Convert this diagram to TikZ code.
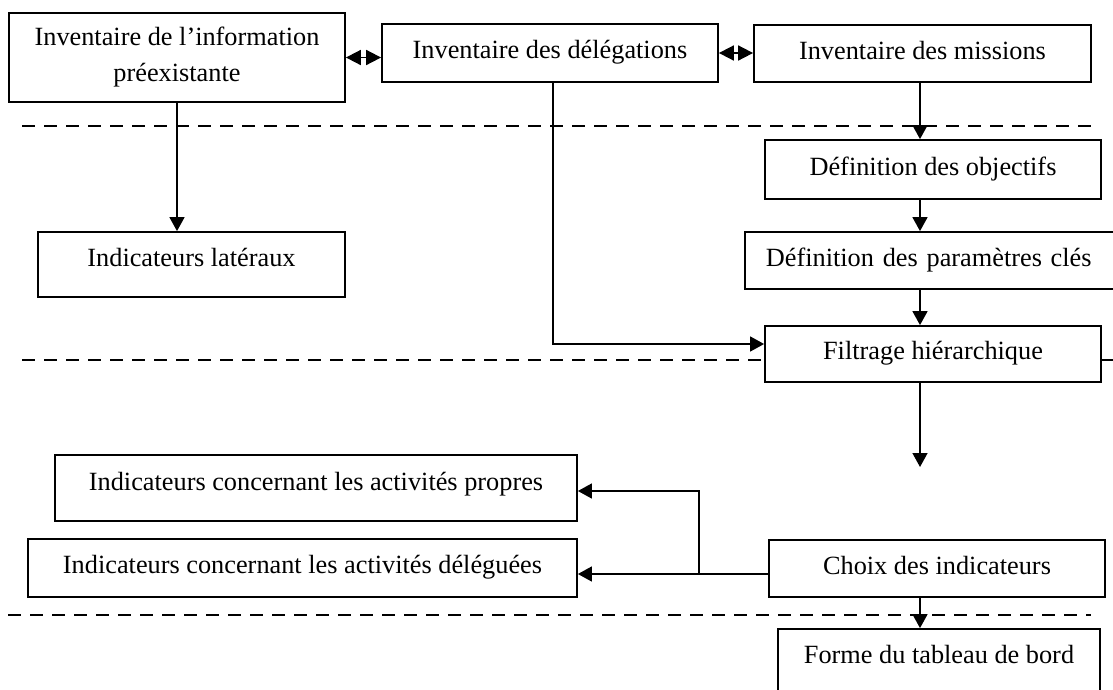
\documentclass[tikz,border=0pt]{standalone}
\usepackage{fontspec}
\setmainfont{Liberation Serif}
\usetikzlibrary{arrows.meta}

\begin{document}
\begin{tikzpicture}[x=1pt,y=-1pt,
  frame/.style={draw, line width=1.8pt, fill=white, inner sep=0pt,
    font=\fontsize{26.3}{36}\selectfont, align=center},
  box/.style={frame, text height=18pt, text depth=7pt},
  arr/.style={line width=1.5pt, -{Triangle[length=14pt,width=15pt]}},
  dbl/.style={line width=1.8pt,
    {Triangle[length=15pt,width=15pt]}-{Triangle[length=15pt,width=15pt]}},
  sep/.style={line width=1.6pt, dash pattern=on 13pt off 9pt},
  sepbold/.style={line width=2.3pt, dash pattern=on 13pt off 9pt}]
\useasboundingbox (0,0) rectangle (1113,689);

% phase separators
\draw[sep] (22,126) -- (1093,126);
\draw[sep] (22,360) -- (1113,360);
\draw[sepbold] (8,615) -- (1091,615);

% boxes
\node[frame, minimum width=336pt, minimum height=89pt] (info) at (177,57.5)
  {Inventaire de l’information\\préexistante};
\node[box, minimum width=336pt, minimum height=58pt] (deleg) at (550,53)
  {Inventaire des délégations};
\node[box, minimum width=337pt, minimum height=57pt] (miss) at (922.5,53.5)
  {Inventaire des missions};
\node[box, minimum width=336pt, minimum height=59pt] (obj) at (933,169.5)
  {Définition des objectifs};
\node[box, text depth=15pt, minimum width=307pt, minimum height=65pt] (lat) at (191.5,264.5)
  {Indicateurs latéraux};
\node[box, anchor=west, inner xsep=21pt, text width=360pt, align=left,
  minimum height=57pt] (param) at (744,260.5)
  {Définition des paramètres clés};
\node[box, minimum width=336pt, minimum height=56pt] (filt) at (933,354)
  {Filtrage hiérarchique};
\node[box, text depth=13pt, minimum width=522pt, minimum height=66pt] (prop) at (316,488)
  {Indicateurs concernant les activités propres};
\node[box, minimum width=549pt, minimum height=58pt] (dele) at (302.5,568)
  {Indicateurs concernant les activités déléguées};
\node[box, minimum width=336pt, minimum height=57pt] (choix) at (937,568.5)
  {Choix des indicateurs};
\node[box, text depth=15pt, minimum width=322pt, minimum height=66pt] (forme) at (939,662)
  {Forme du tableau de bord};

% helper coordinates
\coordinate (col) at (920,0);
\coordinate (dcol) at (553,0);
\coordinate (tip) at (920,467);
\coordinate (br) at (699,574);

% connectors
\draw[dbl] (info.east) -- (info.east -| deleg.west);
\draw[dbl] (deleg.east) -- (deleg.east -| miss.west);
\draw[arr] (info.south) -- (info.south |- lat.north);
\draw[arr] (miss.south -| col) -- (obj.north -| col);
\draw[arr] (obj.south -| col) -- (param.north -| col);
\draw[arr] (param.south -| col) -- (filt.north -| col);
\draw[arr] (deleg.south -| dcol) |- ([yshift=10pt]filt.west);
\draw[arr] (filt.south -| col) -- (tip);
\draw[arr] ([yshift=-5.5pt]choix.west) -- ([yshift=-5.5pt]choix.west -| dele.east);
\draw[arr] (br) |- ([yshift=-3pt]prop.east);
\draw[arr] (choix.south -| col) -- (forme.north -| col);
\end{tikzpicture}
\end{document}
